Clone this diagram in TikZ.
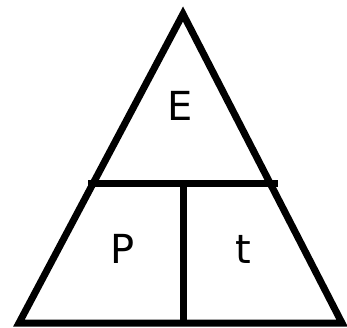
\documentclass[tikz,border=0pt]{standalone}
\usepackage{fontspec}
\setsansfont{DejaVu Sans}
\tikzset{
  edge/.style={line width=7pt, line join=miter},
  letter/.style={font=\sffamily\fontsize{40}{40}\selectfont, inner sep=0pt},
}

\begin{document}
\begin{tikzpicture}[x=1pt, y=-1pt]
    \useasboundingbox (0,0) rectangle (347,327);
    \coordinate (apex) at (183,14);
    \coordinate (baseL) at (19,323);
    \coordinate (baseR) at (342,323);
    \coordinate (midL) at (88,183);
    \coordinate (midR) at (278,183);
    \coordinate (midC) at (183,183);
    \coordinate (baseC) at (183,323);
    \draw[edge] (apex) -- (baseR) -- (baseL) -- cycle;
    \draw[edge] (midL) -- (midR);
    \draw[edge] (midC) -- (baseC);
    \node[letter] (E) at (180,106) {E};
    \node[letter] (P) at (123,249) {P};
    \node[letter] (t) at (243,249) {t};
  \end{tikzpicture}
\end{document}
